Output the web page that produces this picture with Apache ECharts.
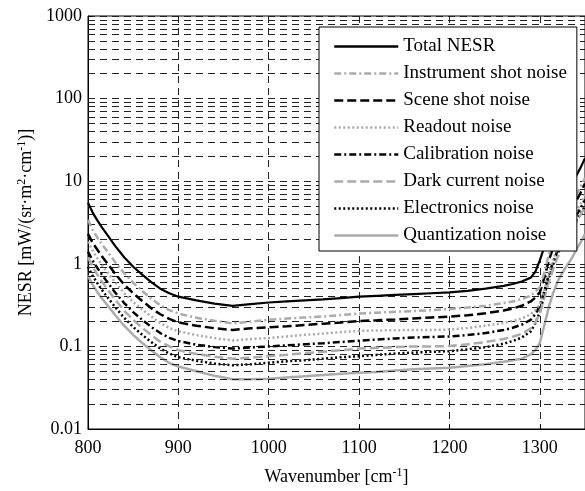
<!DOCTYPE html>
<html><head><meta charset="utf-8">
<script src="https://cdn.jsdelivr.net/npm/echarts@6/dist/echarts.min.js"></script>
<style>html,body{margin:0;padding:0;background:#fff}#c{width:585px;height:491px}</style>
</head><body><div id="c"></div>
<script>
// ---- data ----
const wavenumber = [800,805,810,815,820, 830,840,850,860,870,880,890,900, 920,940,960,980,1000,1020,1040,1060,1080,1100,1120,1140,1160,1180,1200,1220,1240,1260, 1270,1280,1290, 1295,1300,1305,1310,1315,1320,1325,1330,1335,1340,1345,1350];
const totalNESR = [5.5,4.2,3.4,2.8,2.35, 1.65,1.2,0.92,0.74,0.6,0.5,0.44,0.40, 0.36,0.33,0.31,0.325,0.34,0.35,0.36,0.37,0.385,0.40,0.41,0.42,0.43,0.44,0.45,0.47,0.50,0.54, 0.57,0.61,0.68, 0.8,1.1,1.6,2.4,3.4,4.6,6.0,7.6,9.3,11.5,14.5,19];
const instrumentShot = [3.4,2.6,2.1,1.75,1.48, 1.05,0.77,0.59,0.47,0.38,0.315,0.275,0.25, 0.222,0.205,0.19,0.2,0.21,0.217,0.224,0.23,0.24,0.25,0.256,0.262,0.268,0.275,0.283,0.295,0.31,0.335, 0.35,0.375,0.41, 0.46,0.52,0.78,1.3,1.9,2.6,3.4,4.4,5.4,6.7,8.5,11];
const sceneShot = [2.3,1.8,1.5,1.25,1.06, 0.76,0.56,0.44,0.355,0.29,0.245,0.215,0.195, 0.178,0.166,0.158,0.166,0.17,0.175,0.182,0.188,0.195,0.203,0.207,0.212,0.218,0.224,0.229,0.238,0.252,0.272, 0.288,0.31,0.35, 0.39,0.45,0.68,1.1,1.6,2.2,2.9,3.7,4.6,5.7,7.2,9.4];
const readout = [1.85,1.45,1.18,0.98,0.83, 0.6,0.44,0.345,0.28,0.23,0.192,0.167,0.152, 0.137,0.126,0.118,0.123,0.126,0.132,0.138,0.143,0.149,0.154,0.156,0.157,0.158,0.158,0.16,0.167,0.178,0.192, 0.203,0.218,0.245, 0.275,0.32,0.48,0.78,1.15,1.6,2.15,2.75,3.4,4.2,5.3,6.9];
const calibration = [1.4,1.1,0.9,0.75,0.63, 0.45,0.335,0.26,0.21,0.172,0.145,0.127,0.116, 0.105,0.098,0.094,0.097,0.1,0.103,0.106,0.109,0.113,0.117,0.121,0.125,0.128,0.13,0.132,0.137,0.145,0.158, 0.168,0.183,0.21, 0.245,0.31,0.47,0.74,1.08,1.48,1.95,2.5,3.1,3.8,4.7,6.0];
const darkCurrent = [1.2,0.93,0.75,0.62,0.52, 0.37,0.27,0.21,0.168,0.137,0.114,0.1,0.09, 0.081,0.075,0.071,0.073,0.076,0.079,0.083,0.086,0.09,0.094,0.096,0.098,0.1,0.1,0.101,0.106,0.113,0.123, 0.131,0.142,0.165, 0.195,0.25,0.39,0.6,0.88,1.22,1.62,2.05,2.55,3.15,3.9,4.9];
const electronics = [0.92,0.72,0.59,0.49,0.415, 0.3,0.222,0.172,0.138,0.113,0.094,0.082,0.074, 0.067,0.062,0.059,0.0607,0.0635,0.066,0.068,0.071,0.074,0.076,0.079,0.082,0.084,0.086,0.0875,0.092,0.098,0.108, 0.116,0.128,0.152, 0.19,0.26,0.42,0.68,1.0,1.35,1.75,2.2,2.7,3.3,4.0,5.0];
const quantization = [0.72,0.56,0.46,0.385,0.33, 0.24,0.178,0.138,0.11,0.09,0.074,0.063,0.057, 0.05,0.044,0.04,0.04,0.0405,0.042,0.0435,0.045,0.0465,0.048,0.049,0.051,0.053,0.054,0.055,0.058,0.061,0.065, 0.068,0.071,0.08, 0.09,0.11,0.18,0.3,0.45,0.62,0.78,0.95,1.15,1.45,1.8,2.3];

const seriesNames = ['Total NESR','Instrument shot noise','Scene shot noise','Readout noise','Calibration noise','Dark current noise','Electronics noise','Quantization noise'];
const seriesValues = [totalNESR, instrumentShot, sceneShot, readout, calibration, darkCurrent, electronics, quantization];
const xTicks = [800, 900, 1000, 1100, 1200, 1300];
const yTicks = [0.01, 0.1, 1, 10, 100, 1000];

// ---- styles ----
const BLACK = '#000', GRAY = '#ababab';
const lineStyles = [
  {color: BLACK, type: 'solid', width: 2.2},
  {color: GRAY, type: [7,3,2,3], width: 2.5},
  {color: BLACK, type: [9,4], width: 2.5},
  {color: GRAY, type: [2,2.5], width: 2.5},
  {color: BLACK, type: [7,3,2,3], width: 2.5},
  {color: GRAY, type: [9,4], width: 2.5},
  {color: BLACK, type: [2,2.5], width: 2.5},
  {color: GRAY, type: 'solid', width: 2.5}
];
const FONT = 'Liberation Serif';

// horizontal log grid values (1..9 per decade)
const hGrid = [];
for (let e = -2; e <= 2; e++) {
  for (let m = 1; m <= 9; m++) {
    const v = parseFloat((m * Math.pow(10, e)).toPrecision(3));
    if (v > 0.01) hGrid.push(v);
  }
}

const series = seriesNames.map((name, i) => ({
  name,
  type: 'line',
  symbol: 'none',
  showSymbol: false,
  z: 3 + (7 - i),
  clip: true,
  lineStyle: lineStyles[i],
  itemStyle: {color: lineStyles[i].color},
  data: wavenumber.map((w, j) => [w, seriesValues[i][j]])
}));

series.push({
  name: '_grid',
  type: 'line',
  data: [],
  z: 1,
  silent: true,
  markLine: {
    silent: true,
    symbol: ['none', 'none'],
    label: {show: false},
    emphasis: {disabled: true},
    lineStyle: {color: '#222', type: [7,5], width: 1},
    data: hGrid.map(v => ({yAxis: v}))
  }
});

const chart = echarts.init(document.getElementById('c'), null, {renderer: 'canvas'});
chart.setOption({
  animation: false,
  backgroundColor: '#fff',
  grid: {left: 88, right: 0, top: 16, bottom: 56, show: true, borderColor: '#000', borderWidth: 1, backgroundColor: 'transparent'},
  xAxis: {
    type: 'value', min: 800, max: 1350, interval: 100,
    name: '{a|Wavenumber [cm}{s|-1}{a|]}',
    nameLocation: 'middle', nameGap: 38,
    nameTextStyle: {fontFamily: FONT, fontSize: 18, color: '#000',
      rich: {a: {fontFamily: FONT, fontSize: 18, lineHeight: 20, color: '#000'},
             s: {fontFamily: FONT, fontSize: 12, lineHeight: 12, verticalAlign: 'top', color: '#000'}}},
    axisLine: {show: true, lineStyle: {color: '#000', width: 1}},
    axisTick: {show: true, inside: true, length: 4, lineStyle: {color: '#000'}},
    axisLabel: {fontFamily: FONT, fontSize: 18, color: '#000', margin: 10, showMaxLabel: false,
      formatter: v => xTicks.indexOf(v) >= 0 ? String(v) : ''},
    splitLine: {show: true, lineStyle: {color: '#222', type: [7,5], width: 1}}
  },
  yAxis: {
    type: 'log', logBase: 10, min: 0.01, max: 1000,
    name: '{a|NESR [mW/(sr·m}{s|2}{a|·cm}{s|-1}{a|)]}',
    nameLocation: 'middle', nameGap: 46, nameRotate: 90,
    nameTextStyle: {fontFamily: FONT, fontSize: 18, color: '#000',
      rich: {a: {fontFamily: FONT, fontSize: 18, lineHeight: 20, color: '#000'},
             s: {fontFamily: FONT, fontSize: 12, lineHeight: 12, verticalAlign: 'top', color: '#000'}}},
    axisLine: {show: true, lineStyle: {color: '#000', width: 1}},
    axisTick: {show: true, inside: true, length: 4, lineStyle: {color: '#000'}},
    axisLabel: {fontFamily: FONT, fontSize: 18, color: '#000', margin: 6,
      formatter: v => { const t = yTicks.find(y => Math.abs(Math.log10(y) - Math.log10(v)) < 1e-6); return t === undefined ? '' : String(t); }},
    splitLine: {show: true, lineStyle: {color: '#222', type: [7,5], width: 1}}
  },
  legend: {
    z: 50, zlevel: 0,
    orient: 'vertical', left: 319, top: 27,
    padding: [10, 10, 6, 14], itemGap: 8, itemWidth: 64, itemHeight: 14,
    backgroundColor: '#fff', borderColor: '#000', borderWidth: 1, borderRadius: 0,
    textStyle: {fontFamily: FONT, fontSize: 19, color: '#000'},
    itemStyle: {opacity: 0},
    lineStyle: {width: 2.5},
    data: seriesNames
  },
  series
});
</script>
</body></html>
